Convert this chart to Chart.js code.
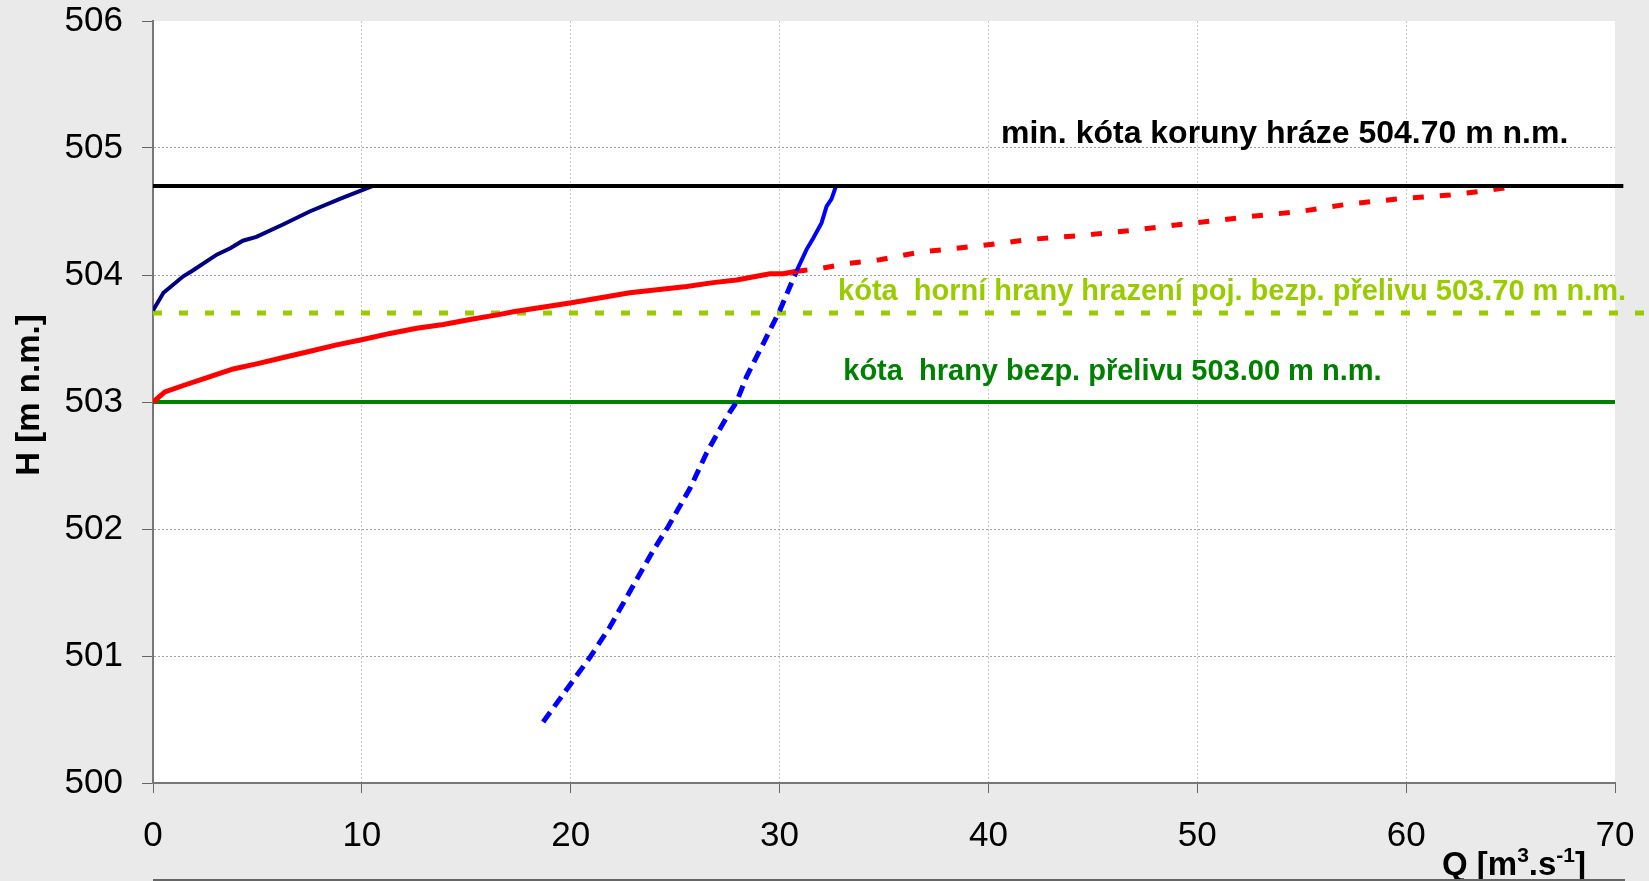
<!DOCTYPE html>
<html>
<head>
<meta charset="utf-8">
<script src="https://cdn.jsdelivr.net/npm/chart.js@4.4.0/dist/chart.umd.min.js"></script>
<style>
html, body { margin: 0; padding: 0; background: #eaeaea; }
#wrap { width: 1649px; height: 881px; }
</style>
</head>
<body>
<div id="wrap"><canvas id="graph" width="1649" height="881"></canvas></div>
<script>
// Q [m3/s] a H [m n.m.]
const nadrzQ = [0, 0.5, 1.45, 1.85, 3.05, 3.7, 4.3, 4.95, 6.25, 7.5, 8.95, 10.5];
const nadrzH = [503.72, 503.86, 503.99, 504.03, 504.16, 504.21, 504.27, 504.30, 504.40, 504.50, 504.60, 504.70];

const prelivQ = [0, 0.57, 1.45, 2.73, 3.84, 4.96, 6.24, 7.52, 8.79, 9.99, 11.35, 12.62, 13.9, 15.18, 16.61, 17.25, 19.96, 22.83, 25.55, 26.82, 27.94, 28.9, 29.54, 30.17, 30.81];
const prelivH = [503.0, 503.08, 503.13, 503.20, 503.26, 503.30, 503.35, 503.40, 503.45, 503.49, 503.54, 503.58, 503.61, 503.65, 503.69, 503.71, 503.78, 503.86, 503.91, 503.94, 503.96, 503.99, 504.01, 504.01, 504.03];

const prelivExtQ = [30.81, 31.93, 33.21, 34.8, 36.72, 39.59, 41.98, 44.38, 46.77, 49.32, 50.92, 52.51, 54.91, 57.3, 59.69, 62.09, 63.68, 65.28];
const prelivExtH = [504.03, 504.05, 504.09, 504.12, 504.18, 504.23, 504.28, 504.31, 504.35, 504.40, 504.43, 504.46, 504.50, 504.56, 504.60, 504.63, 504.66, 504.70];

const korytoQ = [30.81, 31.29, 31.61, 32.01, 32.25, 32.49, 32.70];
const korytoH = [504.03, 504.20, 504.29, 504.41, 504.54, 504.60, 504.70];

const korytoExtQ = [18.68, 20.04, 20.92, 21.88, 23.15, 23.95, 24.67, 25.71, 26.51, 27.22, 27.62, 27.94, 28.42, 29.22, 30.01, 30.81];
const korytoExtH = [500.48, 500.79, 500.99, 501.23, 501.60, 501.83, 502.02, 502.32, 502.60, 502.81, 502.92, 503.00, 503.20, 503.46, 503.72, 504.03];

// vodorovne koty
const korunaQ = [0, 70.4];
const korunaH = [504.7, 504.7];
const hrazeniQ = [0, 71.7];
const hrazeniH = [503.7, 503.7];
const hranaQ = [0, 70];
const hranaH = [503.0, 503.0];

const xTicks = [0, 10, 20, 30, 40, 50, 60, 70];
const yTicks = [500, 501, 502, 503, 504, 505, 506];

const popisky = [
    'min. kóta koruny hráze 504.70 m n.m.',
    'kóta  horní hrany hrazení poj. bezp. přelivu 503.70 m n.m.',
    'kóta  hrany bezp. přelivu 503.00 m n.m.'
];
const popiskyQ = [40.6, 32.8, 33.05];
const popiskyH = [505.11, 503.87, 503.24];
const popiskyBarvy = ['#000000', '#99cc00', '#008000'];
const popiskyVel = [32, 29, 29];

const FONT = '"Liberation Sans", Arial, sans-serif';

const toPoints = (q, h) => q.map((v, i) => ({ x: v, y: h[i] }));

function serie(q, h, color, width, dash, clip) {
    return {
        data: toPoints(q, h),
        borderColor: color,
        backgroundColor: color,
        borderWidth: width,
        borderDash: dash || [],
        showLine: true,
        pointRadius: 0,
        fill: false,
        tension: 0,
        clip: clip === false ? false : undefined
    };
}

/* bila plocha grafu */
const plotArea = {
    id: 'plotArea',
    beforeDraw(chart) {
        const { ctx, chartArea: a } = chart;
        ctx.save();
        ctx.fillStyle = '#ffffff';
        ctx.fillRect(a.left, a.top, a.right - a.left, a.bottom - a.top);
        ctx.restore();
    }
};

/* popisky kot a nazvy os */
const texty = {
    id: 'texty',
    afterDraw(chart) {
        const { ctx, scales: { x, y }, chartArea: a } = chart;
        ctx.save();
        ctx.textBaseline = 'middle';
        ctx.textAlign = 'left';
        popisky.forEach((t, i) => {
            ctx.font = 'bold ' + popiskyVel[i] + 'px ' + FONT;
            ctx.fillStyle = popiskyBarvy[i];
            ctx.fillText(t, x.getPixelForValue(popiskyQ[i]), y.getPixelForValue(popiskyH[i]));
        });

        // H [m n.m.]
        ctx.fillStyle = '#000';
        ctx.font = 'bold 33px ' + FONT;
        ctx.translate(30, (a.top + a.bottom) / 2 - 7);
        ctx.rotate(-Math.PI / 2);
        ctx.textAlign = 'center';
        ctx.fillText('H [m n.m.]', 0, 0);
        ctx.setTransform(1, 0, 0, 1, 0, 0);

        // Q [m3.s-1]
        ctx.textAlign = 'left';
        ctx.textBaseline = 'alphabetic';
        let px = a.right - 173;
        const base = chart.height - 6;
        const parts = [['Q [m', 33, 0], ['3', 21, 13], ['.s', 33, 0], ['-1', 21, 13], [']', 33, 0]];
        parts.forEach(([t, s, up]) => {
            ctx.font = 'bold ' + s + 'px ' + FONT;
            ctx.fillText(t, px, base - up);
            px += ctx.measureText(t).width;
        });

        // spodni ramecek
        ctx.strokeStyle = '#666';
        ctx.lineWidth = 2;
        ctx.beginPath();
        ctx.moveTo(a.left, chart.height - 1);
        ctx.lineTo(a.right + 10, chart.height - 1);
        ctx.stroke();
        ctx.restore();
    }
};

const config = {
    type: 'scatter',
    data: {
        datasets: [
            serie(korunaQ, korunaH, '#000000', 4, [], false),
            serie(nadrzQ, nadrzH, '#000080', 4),
            serie(korytoQ, korytoH, '#0000ff', 4),
            serie(prelivQ, prelivH, '#ff0000', 5),
            serie(prelivExtQ, prelivExtH, '#ff0000', 5, [11, 16]),
            serie(korytoExtQ, korytoExtH, '#0000ff', 5, [12, 7]),
            serie(hrazeniQ, hrazeniH, '#99cc00', 5, [9, 17], false),
            serie(hranaQ, hranaH, '#008000', 4)
        ]
    },
    options: {
        responsive: false,
        animation: false,
        layout: { padding: { top: 21, right: 34, left: 0, bottom: 0 } },
        plugins: {
            legend: { display: false },
            tooltip: { enabled: false }
        },
        scales: {
            x: {
                type: 'linear',
                min: 0,
                max: 70,
                afterBuildTicks: s => { s.ticks = xTicks.map(v => ({ value: v })); },
                afterFit: s => { s.height = 98; s.paddingLeft = 0; s.paddingRight = 0; },
                ticks: {
                    color: '#000',
                    font: { family: FONT, size: 35 },
                    padding: 22,
                    maxRotation: 0,
                    autoSkip: false
                },
                grid: {
                    color: c => (c.tick && (c.tick.value === 0 || c.tick.value === 70)) ? 'rgba(0,0,0,0)' : '#c8c8c8',
                    lineWidth: 1,
                    tickLength: 10,
                    tickColor: '#666',
                    tickBorderDash: []
                },
                border: { color: '#777', width: 2, dash: [2, 2] }
            },
            y: {
                type: 'linear',
                min: 500,
                max: 506,
                afterBuildTicks: s => { s.ticks = yTicks.map(v => ({ value: v })); },
                afterFit: s => { s.width = 153; s.paddingTop = 0; s.paddingBottom = 0; },
                ticks: {
                    color: '#000',
                    font: { family: FONT, size: 35 },
                    padding: 19
                },
                grid: {
                    color: c => (c.tick && (c.tick.value === 500 || c.tick.value === 506)) ? 'rgba(0,0,0,0)' : '#a0a0a0',
                    lineWidth: 1,
                    tickLength: 11,
                    tickColor: '#666',
                    tickBorderDash: []
                },
                border: { color: '#777', width: 2, dash: [2, 2] }
            }
        }
    },
    plugins: [plotArea, texty]
};

new Chart(document.getElementById('graph'), config);
</script>
</body>
</html>
